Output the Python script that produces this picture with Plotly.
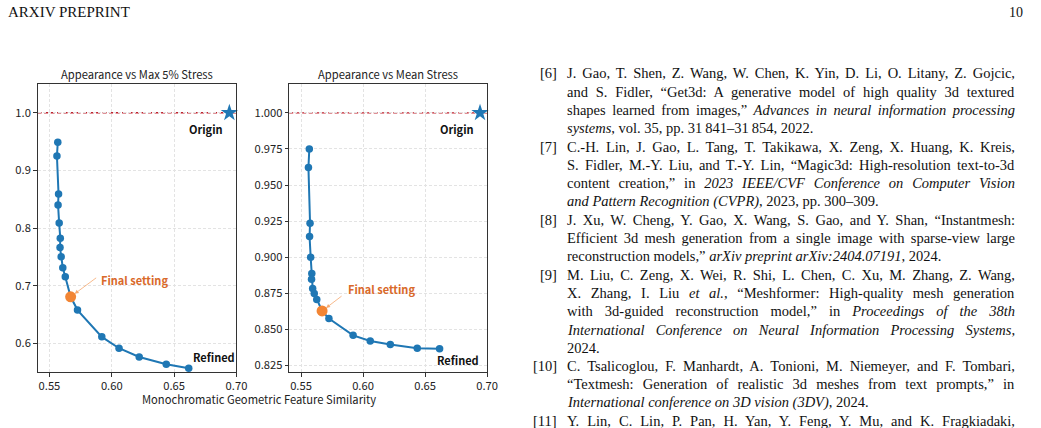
import re
import json
import plotly.graph_objects as go

W, H = 1041, 428

# ---------------- data ----------------
geo_sim = [0.5567, 0.5560, 0.5573, 0.5569, 0.5578, 0.5587, 0.5585, 0.5594, 0.5607,
           0.5627, 0.5670, 0.5725, 0.5920, 0.6058, 0.6220, 0.6437, 0.6617]
app_max5 = [0.949, 0.925, 0.859, 0.840, 0.8085, 0.782, 0.766, 0.750, 0.731,
            0.7153, 0.6806, 0.6575, 0.611, 0.5913, 0.576, 0.5636, 0.5566]
app_mean = [0.975, 0.9621, 0.9235, 0.9143, 0.900, 0.8886, 0.8847, 0.8782, 0.8748,
            0.8706, 0.8627, 0.8574, 0.8458, 0.8419, 0.8394, 0.8368, 0.8366]
final_idx = 10
origin_x = [0.6943]
origin_y = [1.0]
baseline = 1.0

x_ticks = [0.55, 0.60, 0.65, 0.70]
y1_ticks = [0.6, 0.7, 0.8, 0.9, 1.0]
y2_ticks = [0.825, 0.850, 0.875, 0.900, 0.925, 0.950, 0.975, 1.000]

titles = ["Appearance vs Max 5% Stress", "Appearance vs Mean Stress"]
x_label = "Monochromatic Geometric Feature Similarity"

header_left = "ARXIV PREPRINT"
header_right = "10"

ref_labels = {0: "[6]", 4: "[7]", 8: "[8]", 11: "[9]", 16: "[10]", 19: "[11]"}
ragged_lines = {3, 7, 10, 15, 18}   # last line of each reference (not justified)
ref_lines = [
    "J. Gao, T. Shen, Z. Wang, W. Chen, K. Yin, D. Li, O. Litany, Z. Gojcic,",
    "and S. Fidler, “Get3d: A generative model of high quality 3d textured",
    "shapes learned from images,” <i>Advances in neural information processing</i>",
    "<i>systems</i>, vol. 35, pp. 31\u2009841–31\u2009854, 2022.",
    "C.-H. Lin, J. Gao, L. Tang, T. Takikawa, X. Zeng, X. Huang, K. Kreis,",
    "S. Fidler, M.-Y. Liu, and T.-Y. Lin, “Magic3d: High-resolution text-to-3d",
    "content creation,” in <i>2023 IEEE/CVF Conference on Computer Vision</i>",
    "<i>and Pattern Recognition (CVPR)</i>, 2023, pp. 300–309.",
    "J. Xu, W. Cheng, Y. Gao, X. Wang, S. Gao, and Y. Shan, “Instantmesh:",
    "Efficient 3d mesh generation from a single image with sparse-view large",
    "reconstruction models,” <i>arXiv preprint arXiv:2404.07191</i>, 2024.",
    "M. Liu, C. Zeng, X. Wei, R. Shi, L. Chen, C. Xu, M. Zhang, Z. Wang,",
    "X. Zhang, I. Liu <i>et al.</i>, “Meshformer: High-quality mesh generation",
    "with 3d-guided reconstruction model,” in <i>Proceedings of the 38th</i>",
    "<i>International Conference on Neural Information Processing Systems</i>,",
    "2024.",
    "C. Tsalicoglou, F. Manhardt, A. Tonioni, M. Niemeyer, and F. Tombari,",
    "“Textmesh: Generation of realistic 3d meshes from text prompts,” in",
    "<i>International conference on 3D vision (3DV)</i>, 2024.",
    "Y. Lin, C. Lin, P. Pan, H. Yan, Y. Feng, Y. Mu, and K. Fragkiadaki,",
]

# ---------------- style ----------------
BLUE = "#1f77b4"
ORANGE = "#f28534"
ORANGE_TXT = "#d9692a"
SANS = "Noto Sans CJK SC, Noto Sans, DejaVu Sans, sans-serif"
SERIF = "Liberation Serif, Times New Roman, serif"
INK = "#222222"
CHART_FS = 11.2
LABEL_FS = 11
REF_FS = 14.5
TEXT_LEFT = 571.5
TEXT_RIGHT = 1015


def px(p):
    return p / W


def py(p):
    return 1 - p / H


fig = go.Figure()

for k, (ys, xa, ya) in enumerate([(app_max5, "x", "y"), (app_mean, "x2", "y2")]):
    fig.add_shape(type="line", xref=f"{xa} domain", x0=0, x1=1, yref=ya,
                  y0=baseline, y1=baseline,
                  line=dict(color="#c0222f", width=1.4, dash="4px,2.5px"),
                  layer="below")
    fig.add_trace(go.Scatter(
        x=geo_sim, y=ys, mode="lines+markers", xaxis=xa, yaxis=ya,
        line=dict(color=BLUE, width=2),
        marker=dict(color=BLUE, size=7.5), showlegend=False, hoverinfo="skip"))
    fig.add_trace(go.Scatter(
        x=[geo_sim[final_idx]], y=[ys[final_idx]], mode="markers", xaxis=xa, yaxis=ya,
        marker=dict(color=ORANGE, size=11), showlegend=False, hoverinfo="skip"))
    fig.add_trace(go.Scatter(
        x=origin_x, y=origin_y, mode="markers", xaxis=xa, yaxis=ya,
        marker=dict(color=BLUE, size=13, symbol="star"), showlegend=False,
        hoverinfo="skip", cliponaxis=False))

axis_common = dict(
    showgrid=True, gridcolor="#e3e3e3", griddash="3px,2px", gridwidth=1,
    showline=True, mirror=True, linecolor="#333333", linewidth=1,
    ticks="outside", ticklen=3.5, tickcolor="#333333", tickwidth=1,
    zeroline=False, tickfont=dict(family=SANS, size=CHART_FS, color=INK),
)

ydom = [py(372), py(84)]
fig.update_layout(
    xaxis=dict(domain=[px(38), px(239)], range=[0.5405, 0.70], anchor="y",
               tickvals=x_ticks, ticktext=[f"{v:.2f}" for v in x_ticks], **axis_common),
    yaxis=dict(domain=ydom, range=[0.55, 1.05], anchor="x",
               tickvals=y1_ticks, ticktext=[f"{v:.1f}" for v in y1_ticks], **axis_common),
    xaxis2=dict(domain=[px(292.3), px(492.3)], range=[0.5405, 0.70], anchor="y2",
                tickvals=x_ticks, ticktext=[f"{v:.2f}" for v in x_ticks], **axis_common),
    yaxis2=dict(domain=ydom, range=[0.8204, 1.02], anchor="x2",
                tickvals=y2_ticks, ticktext=[f"{v:.3f}" for v in y2_ticks], **axis_common),
)

ann = []
for t, (x0, x1) in zip(titles, [(38, 239), (292.3, 492.3)]):
    ann.append(dict(text=t, xref="paper", yref="paper", x=px((x0 + x1) / 2), y=py(74.3),
                    xanchor="center", yanchor="middle", showarrow=False,
                    font=dict(family=SANS, size=CHART_FS, color=INK)))
ann.append(dict(text=x_label, xref="paper", yref="paper", x=px(261.5), y=py(398.5),
                xanchor="center", yanchor="middle", showarrow=False,
                font=dict(family=SANS, size=CHART_FS, color=INK)))

for k, (ys, xa, ya) in enumerate([(app_max5, "x", "y"), (app_mean, "x2", "y2")]):
    ann.append(dict(text="<b>Origin</b>", xref=xa, yref=ya, x=origin_x[0], y=origin_y[0],
                    xanchor="right", yanchor="middle", xshift=-4, yshift=-16,
                    showarrow=False, font=dict(family=SANS, size=LABEL_FS, color="#111")))
    rx, ry = (2, 11) if k == 0 else (-5, -11)
    ann.append(dict(text="<b>Refined</b>", xref=xa, yref=ya, x=geo_sim[-1], y=ys[-1],
                    xanchor="left", yanchor="middle", xshift=rx, yshift=ry,
                    showarrow=False, font=dict(family=SANS, size=LABEL_FS, color="#111")))
    dx, dy = (28, 17) if k == 0 else (24, 22)
    ann.append(dict(text="<b>Final setting</b>", xref=xa, yref=ya,
                    x=geo_sim[final_idx], y=ys[final_idx],
                    xanchor="left", yanchor="middle", xshift=dx, yshift=dy,
                    showarrow=False, font=dict(family=SANS, size=LABEL_FS, color=ORANGE_TXT)))
    ax, ay = (27, -20) if k == 0 else (21, -16)
    ann.append(dict(text="", xref=xa, yref=ya, x=geo_sim[final_idx], y=ys[final_idx],
                    ax=ax, ay=ay, showarrow=True, arrowhead=2, arrowsize=1,
                    arrowwidth=0.8, arrowcolor="rgba(242,133,52,0.7)", standoff=5))

# header
ann.append(dict(text=header_left, xref="paper", yref="paper", x=px(6), y=py(12),
                xanchor="left", yanchor="middle", showarrow=False,
                font=dict(family=SERIF, size=15, color="#111")))
ann.append(dict(text=header_right, xref="paper", yref="paper", x=px(1036), y=py(12),
                xanchor="right", yanchor="middle", showarrow=False,
                font=dict(family=SERIF, size=14, color="#111")))

# references
line_y0, line_dy = 73.3, 18.3
justify_targets = []
for i, line in enumerate(ref_lines):
    yy = line_y0 + i * line_dy
    ann.append(dict(text=line, xref="paper", yref="paper", x=px(TEXT_LEFT), y=py(yy),
                    xanchor="left", yanchor="middle", align="left", showarrow=False,
                    font=dict(family=SERIF, size=REF_FS, color="#111")))
    if i not in ragged_lines:
        justify_targets.append(re.sub(r"<[^>]+>", "", line))
    if i in ref_labels:
        ann.append(dict(text=ref_labels[i], xref="paper", yref="paper", x=px(565), y=py(yy),
                        xanchor="right", yanchor="middle", showarrow=False,
                        font=dict(family=SERIF, size=REF_FS, color="#111")))

fig.update_layout(
    annotations=ann,
    width=W, height=H, margin=dict(l=0, r=0, t=0, b=0),
    paper_bgcolor="white", plot_bgcolor="white",
    showlegend=False,
)

# justify the reference lines (like the LaTeX column) by adjusting word spacing
justify_js = """
var gd = document.getElementById('{plot_id}');
var svg = gd.querySelector('svg.main-svg');
var x0 = svg ? svg.getBoundingClientRect().left : 0;
var targets = %s;
var right = %f;
var texts = gd.querySelectorAll('text.annotation-text');
texts.forEach(function(t){
  var s = t.textContent;
  if (targets.indexOf(s) < 0) return;
  var n = (s.match(/ /g) || []).length;
  if (!n) return;
  var r = t.getBoundingClientRect();
  var extra = right - (r.right - x0);
  t.style.wordSpacing = (extra / n) + 'px';
});
""" % (json.dumps(justify_targets), TEXT_RIGHT)

fig.write_html("out.html", config={"displayModeBar": False}, post_script=justify_js)
